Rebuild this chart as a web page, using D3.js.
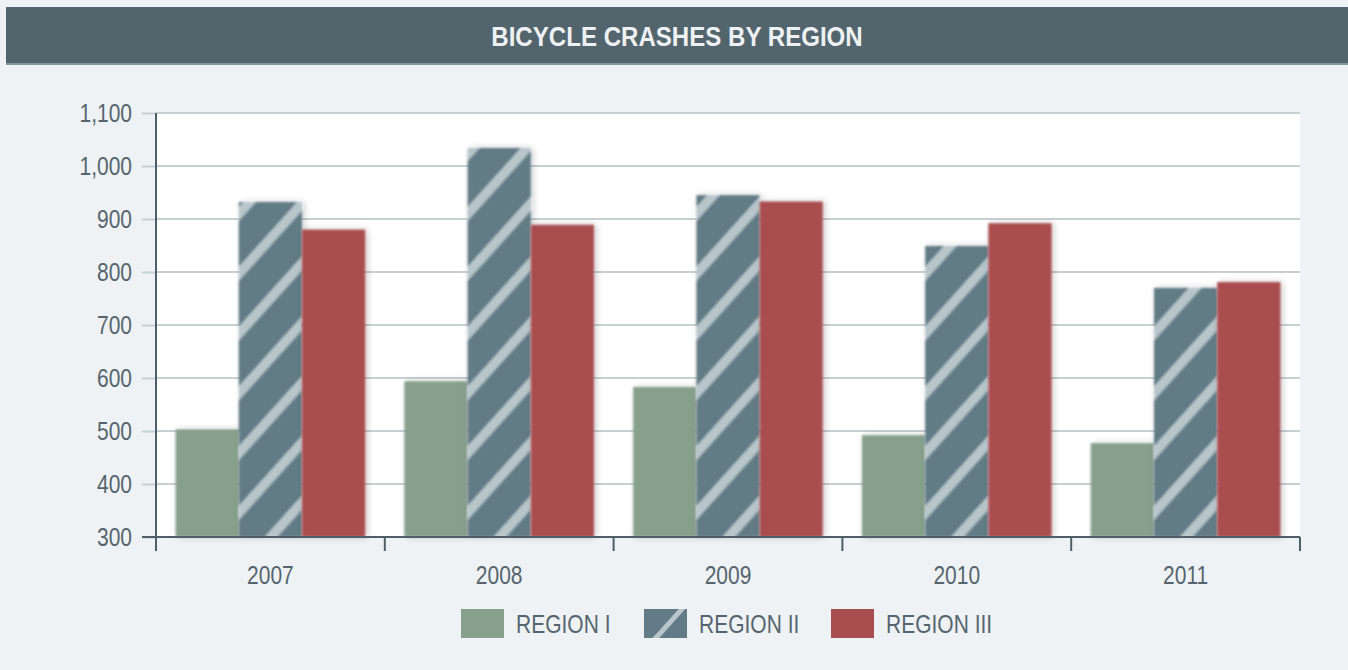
<!DOCTYPE html>
<html>
<head>
<meta charset="utf-8">
<script src="https://cdn.jsdelivr.net/npm/d3@7"></script>
<style>
  html, body { margin: 0; padding: 0; background: #eef2f5; }
  svg { display: block; }
</style>
</head>
<body>
<div id="chart"></div>
<script>
  // data
  const years = ["2007", "2008", "2009", "2010", "2011"];
  const regions = ["REGION I", "REGION II", "REGION III"];
  const regionI = [503, 594, 583, 492, 477];
  const regionII = [932, 1034, 945, 849, 770];
  const regionIII = [880, 889, 933, 892, 781];
  const yTicks = [300, 400, 500, 600, 700, 800, 900, 1000, 1100];

  const W = 1348, H = 670;
  const margin = { top: 113, right: 48, bottom: 133, left: 156 };
  const font = "'Liberation Sans', Arial, sans-serif";
  const narrow = 0.84; // no narrow face installed, so squeeze the regular one

  const colors = { "REGION I": "#87a08c", "REGION II": "#627b86", "REGION III": "#a94e4f" };
  const fills = { "REGION I": colors["REGION I"], "REGION II": "url(#stripes)", "REGION III": colors["REGION III"] };

  const rows = years.map((y, i) => ({
    year: y,
    values: [regionI[i], regionII[i], regionIII[i]].map((v, j) => ({ region: regions[j], value: v }))
  }));

  const svg = d3.select("#chart").append("svg")
    .attr("width", W)
    .attr("height", H);

  const defs = svg.append("defs");

  const pat = defs.append("pattern")
    .attr("id", "stripes")
    .attr("patternUnits", "userSpaceOnUse")
    .attr("width", 40)
    .attr("height", 40)
    .attr("patternTransform", "rotate(42)");
  pat.append("rect").attr("width", 40).attr("height", 40).attr("fill", colors["REGION II"]);
  pat.append("rect").attr("x", 0).attr("width", 9.5).attr("height", 40).attr("fill", "#b8c6cc");

  const legendPat = defs.append("pattern")
    .attr("id", "stripe-legend")
    .attr("patternUnits", "userSpaceOnUse")
    .attr("width", 80)
    .attr("height", 80)
    .attr("patternTransform", "translate(22,14) rotate(42)");
  legendPat.append("rect").attr("width", 80).attr("height", 80).attr("fill", colors["REGION II"]);
  legendPat.append("rect").attr("x", -5).attr("width", 10).attr("height", 80).attr("fill", "#b8c6cc");

  const shadow = defs.append("filter")
    .attr("id", "soft")
    .attr("x", "-30%").attr("y", "-10%")
    .attr("width", "160%").attr("height", "120%");
  shadow.append("feGaussianBlur").attr("in", "SourceAlpha").attr("stdDeviation", 3.5).attr("result", "b");
  shadow.append("feOffset").attr("dx", 2).attr("dy", 0).attr("result", "o");
  shadow.append("feComponentTransfer").attr("in", "o").attr("result", "s")
    .append("feFuncA").attr("type", "linear").attr("slope", 0.22);
  shadow.append("feGaussianBlur").attr("in", "SourceGraphic").attr("stdDeviation", 1).attr("result", "g");
  const merge = shadow.append("feMerge");
  merge.append("feMergeNode").attr("in", "s");
  merge.append("feMergeNode").attr("in", "g");

  // squeezed text helper
  function label(sel, x, y, anchor, size, sx) {
    return sel.append("text")
      .attr("transform", `translate(${x},${y}) scale(${sx},1)`)
      .attr("dy", "0.35em")
      .attr("text-anchor", anchor)
      .style("font-family", font)
      .style("font-size", size + "px");
  }

  // title banner
  svg.append("rect")
    .attr("x", 6).attr("y", 7)
    .attr("width", W - 6).attr("height", 57)
    .attr("fill", "#52656d");
  svg.append("rect")
    .attr("x", 6).attr("y", 63)
    .attr("width", W - 6).attr("height", 2)
    .attr("fill", "#8a989e");
  label(svg, 677, 36, "middle", 28, 0.86)
    .attr("fill", "#eef1f3")
    .style("font-weight", "bold")
    .text("BICYCLE CRASHES BY REGION");

  const width = W - margin.left - margin.right;
  const height = H - margin.top - margin.bottom;

  const x0 = d3.scaleBand().domain(years).range([margin.left, margin.left + width]).padding(0);
  const x1 = d3.scaleBand().domain(regions).range([0, x0.bandwidth()]).paddingInner(0).paddingOuter(0.31);
  const y = d3.scaleLinear().domain([300, 1100]).range([margin.top + height, margin.top]);

  // plot background
  svg.append("rect")
    .attr("x", margin.left).attr("y", margin.top)
    .attr("width", width).attr("height", height)
    .attr("fill", "#ffffff");

  // gridlines
  svg.append("g")
    .selectAll("line")
    .data(yTicks.slice(1))
    .join("line")
      .attr("x1", margin.left).attr("x2", margin.left + width)
      .attr("y1", d => y(d)).attr("y2", d => y(d))
      .attr("stroke", "#c7d0d3")
      .attr("stroke-width", 2);

  // bars
  svg.append("g")
    .selectAll("g")
    .data(rows)
    .join("g")
      .attr("transform", d => `translate(${x0(d.year)},0)`)
    .selectAll("rect")
    .data(d => d.values)
    .join("rect")
      .attr("x", d => x1(d.region))
      .attr("y", d => y(d.value))
      .attr("width", x1.bandwidth())
      .attr("height", d => y(300) - y(d.value))
      .attr("fill", d => fills[d.region])
      .attr("filter", "url(#soft)");

  // y axis: tick marks from d3, labels squeezed by hand
  const yAxis = svg.append("g")
    .attr("transform", `translate(${margin.left},0)`)
    .call(d3.axisLeft(y).tickValues(yTicks).tickSize(14).tickFormat(""));
  yAxis.select(".domain").remove();
  yAxis.selectAll(".tick line").attr("stroke", "#c7d0d3").attr("stroke-width", 2);

  const yLabels = svg.append("g");
  yTicks.forEach(t => {
    label(yLabels, margin.left - 24, y(t), "end", 25, narrow)
      .attr("fill", "#56656d")
      .text(d3.format(",")(t));
  });

  svg.append("line")
    .attr("x1", margin.left).attr("x2", margin.left)
    .attr("y1", margin.top).attr("y2", y(300) + 14)
    .attr("stroke", "#4e5f68").attr("stroke-width", 2);

  // x axis
  const xBounds = years.map(d => x0(d)).concat([margin.left + width]);
  svg.append("line")
    .attr("x1", margin.left - 14).attr("x2", margin.left + width)
    .attr("y1", y(300)).attr("y2", y(300))
    .attr("stroke", "#4e5f68").attr("stroke-width", 2);
  svg.append("g")
    .selectAll("line")
    .data(xBounds)
    .join("line")
      .attr("x1", d => d).attr("x2", d => d)
      .attr("y1", y(300)).attr("y2", y(300) + 14)
      .attr("stroke", "#4e5f68").attr("stroke-width", 2);
  const xLabels = svg.append("g");
  years.forEach(yr => {
    label(xLabels, x0(yr) + x0.bandwidth() / 2, 575, "middle", 25, narrow)
      .attr("fill", "#56656d")
      .text(yr);
  });

  // legend
  const legendX = [461, 644, 831];
  const legend = svg.append("g")
    .selectAll("g")
    .data(regions)
    .join("g")
      .attr("transform", (d, i) => `translate(${legendX[i]},609)`);
  legend.append("rect")
    .attr("width", 43).attr("height", 29)
    .attr("fill", d => d === "REGION II" ? "url(#stripe-legend)" : fills[d]);
  legend.each(function (d) {
    label(d3.select(this), 55, 15, "start", 25, narrow)
      .attr("fill", "#56656d")
      .text(d);
  });
</script>
</body>
</html>
